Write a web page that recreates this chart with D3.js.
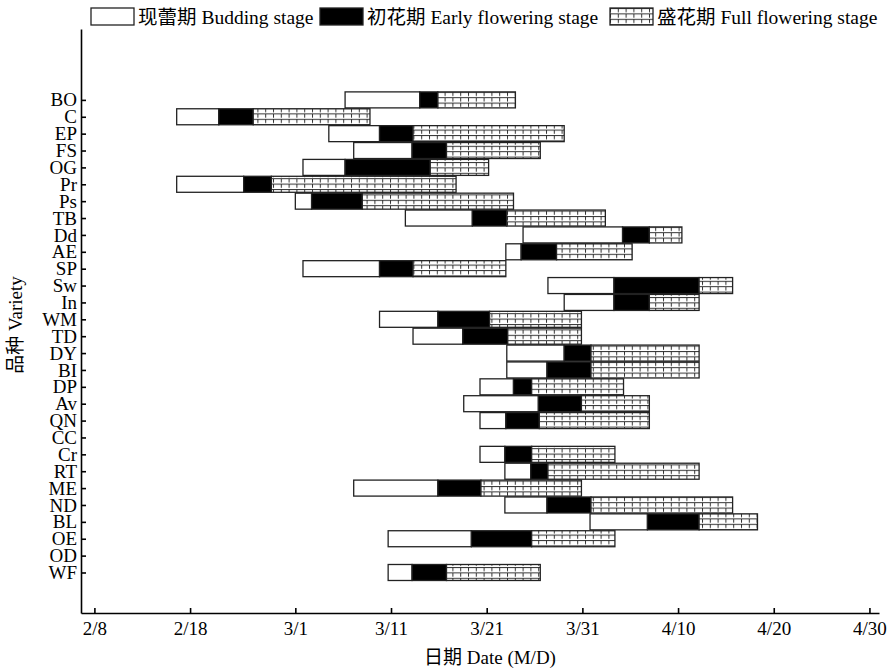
<!DOCTYPE html>
<meta charset="utf-8">
<script src="https://d3js.org/d3.v7.min.js"></script>
<style>
  body { margin: 0; background: #fff; }
  text { font-family: "Liberation Serif", "Times New Roman", "Noto Sans CJK SC", serif; fill: #000; }
</style>
<div id="chart"></div>
<script>
// varieties, top to bottom
var varieties = ["BO","C","EP","FS","OG","Pr","Ps","TB","Dd","AE","SP","Sw","In","WM","TD",
                 "DY","BI","DP","Av","QN","CC","Cr","RT","ME","ND","BL","OE","OD","WF"];

// stage boundaries as day of year (2/8 = 39, 3/1 = 60, 4/30 = 120); null = no record
var budStart   = [65.2,47.6,63.5,66.1,60.8,47.6,60.0,71.5,83.8,82.0,60.8,86.4,88.1,68.8,72.3,
                  82.1,82.1,79.3,77.6,79.3,null,79.3,81.9,66.1,81.9,90.8,69.7,null,69.7];
var earlyStart = [73.0,52.0,68.8,72.2,65.2,54.6,61.7,78.5,94.2,83.6,68.8,93.3,93.3,74.9,77.5,
                  88.1,86.3,82.8,85.4,82.0,null,81.9,84.6,74.9,86.3,96.8,78.4,null,72.2];
var fullStart  = [74.9,55.6,72.3,75.8,74.1,57.5,67.0,82.1,97.0,87.3,72.3,102.2,97.0,80.3,82.2,
                  90.9,90.9,84.7,89.9,85.5,null,84.7,86.4,79.4,90.9,102.2,84.7,null,75.8];
var fullEnd    = [83.0,67.8,88.1,85.6,80.2,76.8,82.8,92.4,100.4,95.2,82.0,105.7,102.2,89.9,89.9,
                  102.2,102.2,94.3,97.0,97.0,null,93.4,102.2,89.9,105.7,108.3,93.4,null,85.6];

var tickDays   = [39, 49, 60, 70, 80, 90, 100, 110, 120];
var tickLabels = ["2/8","2/18","3/1","3/11","3/21","3/31","4/10","4/20","4/30"];

var stageNames = ["现蕾期 Budding stage", "初花期 Early flowering stage", "盛花期 Full flowering stage"];

var width = 889, height = 668;

var svg = d3.select("#chart").append("svg")
    .attr("width", width)
    .attr("height", height);

// grid fill for full flowering stage
var pat = svg.append("defs").append("pattern")
    .attr("id", "grid")
    .attr("patternUnits", "userSpaceOnUse")
    .attr("width", 7.8)
    .attr("height", 5.4);
pat.append("rect").attr("width", 7.8).attr("height", 5.4).attr("fill", "#fff");
pat.append("line").attr("x1", 0).attr("x2", 7.8).attr("y1", 0.5).attr("y2", 0.5)
    .attr("stroke", "#333").attr("stroke-width", 1);
pat.append("line").attr("x1", 0.5).attr("x2", 0.5).attr("y1", 0).attr("y2", 4.2)
    .attr("stroke", "#333").attr("stroke-width", 1);

var x = d3.scaleLinear().domain([37.6, 121]).range([81, 879]);
var y = d3.scaleLinear().domain([-4.2, 30.4]).range([29, 613]);
var barH = 16;

// rows -> segments
var segments = [];
varieties.forEach(function(v, i) {
  if (budStart[i] == null) return;
  var b = [budStart[i], earlyStart[i], fullStart[i], fullEnd[i]];
  for (var s = 0; s < 3; s++) {
    segments.push({row: i, stage: s, x0: b[s], x1: b[s + 1]});
  }
});

var fills = ["#fff", "#000", "url(#grid)"];

svg.append("g")
  .selectAll("rect")
  .data(segments)
  .enter().append("rect")
    .attr("x", function(d) { return x(d.x0); })
    .attr("y", function(d) { return y(d.row) - barH / 2; })
    .attr("width", function(d) { return x(d.x1) - x(d.x0); })
    .attr("height", barH)
    .attr("fill", function(d) { return fills[d.stage]; })
    .attr("stroke", "#222")
    .attr("stroke-width", 1.3);

// x axis
var xAxis = svg.append("g")
    .attr("transform", "translate(0,613)")
    .call(d3.axisBottom(x)
      .tickValues(tickDays)
      .tickFormat(function(d, i) { return tickLabels[i]; })
      .tickSize(-5)
      .tickSizeOuter(0)
      .tickPadding(8.5));

// y axis
var yAxis = svg.append("g")
    .attr("transform", "translate(81,0)")
    .call(d3.axisLeft(y)
      .tickValues(d3.range(varieties.length))
      .tickFormat(function(d) { return varieties[d]; })
      .tickSize(-5)
      .tickSizeOuter(0)
      .tickPadding(4));

[xAxis, yAxis].forEach(function(a) {
  a.selectAll("path, line").attr("stroke", "#000").attr("stroke-width", 1.6);
  a.selectAll("text").style("font-size", "19px").attr("fill", "#000")
    .style("font-family", "'Liberation Serif', serif");
});

// axis titles
svg.append("text")
    .attr("x", 490)
    .attr("y", 664)
    .attr("text-anchor", "middle")
    .style("font-size", "19px")
    .text("日期 Date (M/D)");

svg.append("text")
    .attr("transform", "translate(22,325) rotate(-90)")
    .attr("text-anchor", "middle")
    .style("font-size", "19px")
    .text("品种 Variety");

// legend
var legendX = [91, 320, 610];
var legend = svg.append("g")
  .selectAll("g")
  .data(stageNames)
  .enter().append("g")
    .attr("transform", function(d, i) { return "translate(" + legendX[i] + ",8)"; });

legend.append("rect")
    .attr("width", 43)
    .attr("height", 17)
    .attr("fill", function(d, i) { return fills[i]; })
    .attr("stroke", "#222")
    .attr("stroke-width", 1.3);

legend.append("text")
    .attr("x", 47)
    .attr("y", 15.5)
    .style("font-size", "19.5px")
    .text(function(d) { return d; });
</script>
